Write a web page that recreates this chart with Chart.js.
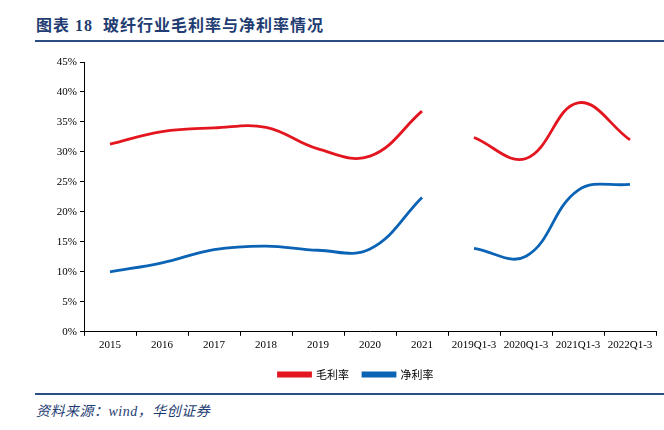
<!DOCTYPE html>
<html>
<head>
<meta charset="utf-8">
<script src="https://cdn.jsdelivr.net/npm/chart.js@4/dist/chart.umd.min.js"></script>
<style>
    body { margin: 0; width: 664px; height: 430px; background: #fff; position: relative; overflow: hidden; }
    #title { position: absolute; left: 36px; top: 12px; font: bold 16px "Liberation Serif", "Noto Sans CJK SC"; color: #1f3d72; letter-spacing: 1px; white-space: pre; }
    #title .cn { font-family: "Noto Sans CJK SC"; }
    #topLine { position: absolute; left: 35px; right: 0; top: 40px; height: 2px; background: #2a4d84; }
    #chartBox { position: absolute; left: 0; top: 45px; width: 664px; height: 347px; }
    #bottomLine { position: absolute; left: 35px; right: 0; top: 393px; height: 2px; background: #2a4d84; }
    #source { position: absolute; left: 36px; top: 400px; font: italic 14px "Liberation Serif", "Noto Sans CJK SC"; color: #1f3d72; letter-spacing: 0.5px; }
</style>
</head>
<body>
<div id="title"><span class="cn">图表</span> 18  <span class="cn">玻纤行业毛利率与净利率情况</span></div>
<div id="topLine"></div>
<div id="chartBox"><canvas id="myChart"></canvas></div>
<div id="bottomLine"></div>
<div id="source">资料来源：wind，华创证券</div>
<script>
const categories = ['2015', '2016', '2017', '2018', '2019', '2020', '2021', '2019Q1-3', '2020Q1-3', '2021Q1-3', '2022Q1-3'];

// annual values 2015-2021 (%)
const grossYear = [31.3, 33.4, 34.0, 34.1, 30.5, 29.3, 36.8];
const netYear = [10.0, 11.5, 13.7, 14.3, 13.6, 13.8, 22.4];

// Q1-3 values 2019-2022 (%)
const grossQuarter = [32.4, 28.9, 38.2, 32.0];
const netQuarter = [13.9, 12.6, 23.6, 24.6];

const yTicks = [0, 5, 10, 15, 20, 25, 30, 35, 40, 45];

const redColor = '#e3161f';
const blueColor = '#0b63b5';

const padYear = (arr) => arr.concat(new Array(categories.length - arr.length).fill(null));
const padQuarter = (arr) => new Array(categories.length - arr.length).fill(null).concat(arr);

const lineStyle = (color) => ({
    borderColor: color,
    backgroundColor: color,
    borderWidth: 2.8,
    pointRadius: 0,
    tension: 0.4,
    fill: false,
    spanGaps: false
});

// move the legend a bit to the right, like the original
const legendShift = {
    id: 'legendShift',
    afterLayout(chart) {
        chart.legend.left += 28;
        chart.legend.right += 28;
    }
};

const ctx = document.getElementById('myChart').getContext('2d');

const myChart = new Chart(ctx, {
    type: 'line',
    data: {
        labels: categories,
        datasets: [
            { label: '毛利率', data: padYear(grossYear), ...lineStyle(redColor) },
            { label: '净利率', data: padYear(netYear), ...lineStyle(blueColor) },
            { label: '毛利率_q', data: padQuarter(grossQuarter), ...lineStyle(redColor) },
            { label: '净利率_q', data: padQuarter(netQuarter), ...lineStyle(blueColor) }
        ]
    },
    options: {
        responsive: true,
        maintainAspectRatio: false,
        animation: false,
        layout: {
            padding: { top: 17, right: 8, left: 0, bottom: 2 }
        },
        plugins: {
            legend: {
                display: true,
                position: 'bottom',
                labels: {
                    filter: (item) => item.datasetIndex < 2,
                    boxWidth: 32,
                    boxHeight: 3,
                    padding: 14,
                    color: '#000',
                    font: { size: 11, family: '"Noto Sans CJK SC"' }
                }
            },
            tooltip: { enabled: false }
        },
        scales: {
            x: {
                offset: true,
                grid: {
                    offset: true,
                    drawOnChartArea: false,
                    drawTicks: true,
                    tickLength: 4,
                    color: '#000'
                },
                border: { color: '#000', width: 1 },
                ticks: {
                    color: '#000',
                    padding: 3,
                    maxRotation: 0,
                    autoSkip: false,
                    font: { size: 11, family: '"Liberation Serif"' }
                }
            },
            y: {
                min: 0,
                max: 45,
                afterBuildTicks: (scale) => {
                    scale.ticks = yTicks.map(v => ({ value: v }));
                },
                afterFit: (scale) => {
                    scale.width = 84;
                },
                grid: {
                    drawOnChartArea: false,
                    drawTicks: true,
                    tickLength: 4,
                    color: '#000'
                },
                border: { color: '#000', width: 1 },
                ticks: {
                    color: '#000',
                    padding: 3,
                    callback: (value) => value + '%',
                    font: { size: 11, family: '"Liberation Serif"' }
                }
            }
        }
    },
    plugins: [legendShift]
});
</script>
</body>
</html>
